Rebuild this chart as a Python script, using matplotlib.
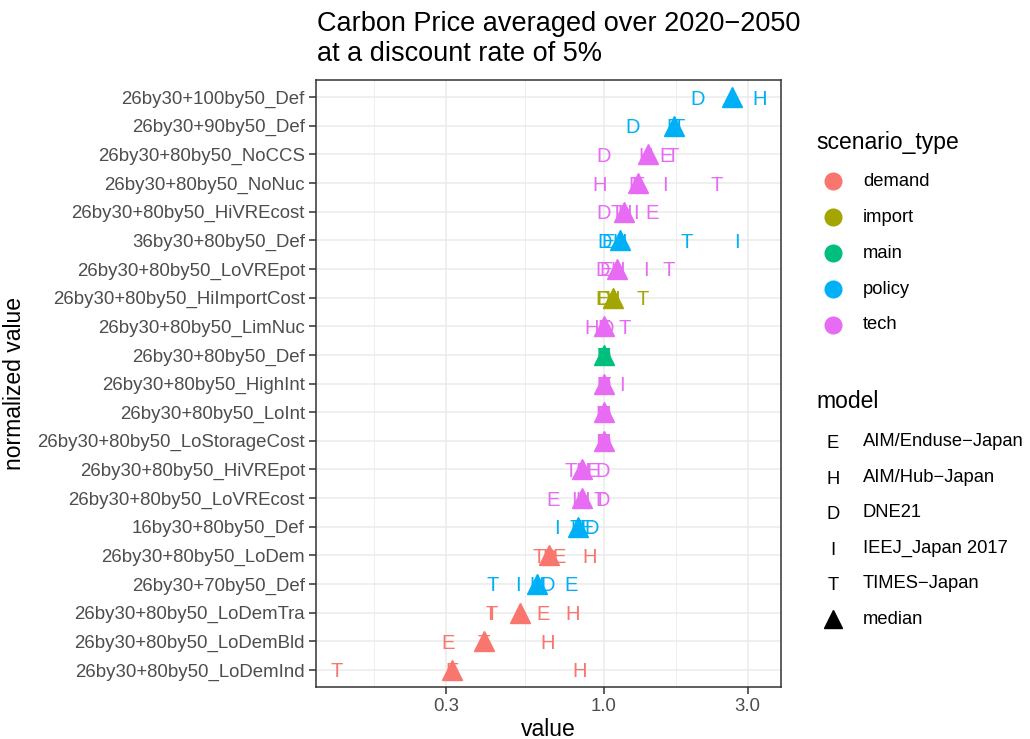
import numpy as np
import matplotlib
matplotlib.use('Agg')
import matplotlib.pyplot as plt
from matplotlib.lines import Line2D

plt.rcParams['font.family'] = ['Liberation Sans', 'DejaVu Sans']

# scenarios, top to bottom
scenarios = ['26by30+100by50_Def', '26by30+90by50_Def', '26by30+80by50_NoCCS',
             '26by30+80by50_NoNuc', '26by30+80by50_HiVREcost', '36by30+80by50_Def',
             '26by30+80by50_LoVREpot', '26by30+80by50_HiImportCost', '26by30+80by50_LimNuc',
             '26by30+80by50_Def', '26by30+80by50_HighInt', '26by30+80by50_LoInt',
             '26by30+80by50_LoStorageCost', '26by30+80by50_HiVREpot', '26by30+80by50_LoVREcost',
             '16by30+80by50_Def', '26by30+80by50_LoDem', '26by30+70by50_Def',
             '26by30+80by50_LoDemTra', '26by30+80by50_LoDemBld', '26by30+80by50_LoDemInd']
scenario_type = ['policy', 'policy', 'tech', 'tech', 'tech', 'policy', 'tech', 'import', 'tech',
                 'main', 'tech', 'tech', 'tech', 'tech', 'tech', 'policy', 'demand', 'policy',
                 'demand', 'demand', 'demand']

# normalized values per model (nan = no result)
nan = np.nan
val_E = [nan, 1.70, 1.61, 1.30, 1.45, 1.03, 1.02, 0.99, 1.00, 1.0, 1.00, 0.99, 1.00,
         0.92, 0.68, 0.88, 0.71, 0.78, 0.63, 0.305, 0.315]
val_H = [3.29, nan, 1.38, 0.97, 1.17, 1.13, 1.11, 1.07, 0.91, 1.0, 1.00, 1.00, 1.00,
         0.85, 0.85, 0.82, 0.90, 0.60, 0.79, 0.65, 0.83]
val_D = [2.04, 1.25, 1.00, 1.28, 1.00, 1.01, 0.99, 1.00, 1.02, 1.0, 1.00, 1.00, 1.00,
         0.99, 0.99, 0.91, 0.66, 0.65, nan, nan, nan]
val_I = [nan, 1.72, 1.40, 1.59, 1.28, 2.77, 1.38, 1.08, 1.00, 1.0, 1.15, 0.99, 0.96,
         0.83, 0.80, 0.70, 0.65, 0.52, 0.42, nan, nan]
val_T = [nan, 1.77, 1.69, 2.36, 1.10, 1.89, 1.64, 1.35, 1.17, 1.0, 1.01, 1.00, 1.00,
         0.78, 0.97, 0.81, 0.61, 0.43, 0.425, 0.40, 0.131]

models = ['E', 'H', 'D', 'I', 'T']
model_names = ['AIM/Enduse\u2212Japan', 'AIM/Hub\u2212Japan', 'DNE21', 'IEEJ_Japan 2017',
               'TIMES\u2212Japan']
type_names = ['demand', 'import', 'main', 'policy', 'tech']
type_colors = ['#F8766D', '#A3A500', '#00BF7D', '#00B0F6', '#E76BF3']
color_of = dict(zip(type_names, type_colors))

W, H = 1030, 739
fig = plt.figure(figsize=(W / 100, H / 100), dpi=100)
ax = fig.add_axes([316 / W, 1 - 687 / H, (781 - 316) / W, (687 - 80) / H])

ypos = np.arange(len(scenarios))
vals = np.array([val_E, val_H, val_D, val_I, val_T])
med = np.nanmedian(vals, axis=0)

ax.set_xscale('log')
ax.set_yticks(ypos)
ax.set_yticklabels(scenarios)
ax.set_xticks([0.3, 1.0, 3.0])
ax.set_xticklabels(['0.3', '1.0', '3.0'])
ax.set_xticks([np.sqrt(0.1 * 0.3), np.sqrt(0.3), np.sqrt(3.0)], minor=True)
ax.xaxis.set_minor_formatter(plt.NullFormatter())
ax.tick_params(axis='x', which='minor', length=0)

ax.grid(True, which='major', color='#EBEBEB', linewidth=1.1)
ax.grid(True, which='minor', axis='x', color='#EBEBEB', linewidth=0.6)
ax.set_axisbelow(True)

for m, row in zip(models, vals):
    for y, v, st in zip(ypos, row, scenario_type):
        if np.isnan(v):
            continue
        ax.text(v, y, m, color=color_of[st], fontsize=14.5, ha='center', va='center_baseline')

for y, v, st in zip(ypos, med, scenario_type):
    ax.plot(v, y, marker='^', markersize=14, color=color_of[st], linestyle='none', zorder=5)

lo = np.log10(np.nanmin(vals))
hi = np.log10(np.nanmax(vals))
pad = 0.05 * (hi - lo)
ax.set_xlim(10 ** (lo - pad), 10 ** (hi + pad))
ax.set_ylim(len(scenarios) - 0.4, -0.6)

for s in ax.spines.values():
    s.set_color('#333333')
    s.set_linewidth(1.1)
ax.tick_params(axis='both', which='major', colors='#333333', labelcolor='#4D4D4D',
               labelsize=13.4, length=5, width=1.1, pad=3)

ax.set_xlabel('value', fontsize=16.5, labelpad=2)
ax.set_ylabel('normalized value', fontsize=16.5, labelpad=8)

fig.text(317 / W, 1 - 11 / H,
         'Carbon Price averaged over 2020\u22122050\nat a discount rate of 5%',
         fontsize=19.5, ha='left', va='top', linespacing=1.2)

# legend: scenario_type
fig.text(816 / W, 1 - 142 / H, 'scenario_type', fontsize=16.5, ha='left', va='center')
for i, (name, col) in enumerate(zip(type_names, type_colors)):
    yy = 1 - (181 + 36 * i) / H
    fig.add_artist(Line2D([833 / W], [yy], transform=fig.transFigure, marker='o',
                          markersize=12, color=col, linestyle='none'))
    fig.text(863 / W, yy, name, fontsize=13.2, ha='left', va='center')

# legend: model
fig.text(816 / W, 1 - 402 / H, 'model', fontsize=16.5, ha='left', va='center')
for i, (m, name) in enumerate(zip(models, model_names)):
    yy = 1 - (442 + 35.4 * i) / H
    fig.text(833 / W, yy, m, fontsize=13.2, ha='center', va='center_baseline')
    fig.text(863 / W, yy, name, fontsize=13.2, ha='left', va='center')
yy = 1 - (442 + 35.4 * 5) / H
fig.add_artist(Line2D([833 / W], [yy], transform=fig.transFigure, marker='^',
                      markersize=13, color='black', linestyle='none'))
fig.text(863 / W, yy, 'median', fontsize=13.2, ha='left', va='center')

fig.savefig('out.png', dpi=100)
